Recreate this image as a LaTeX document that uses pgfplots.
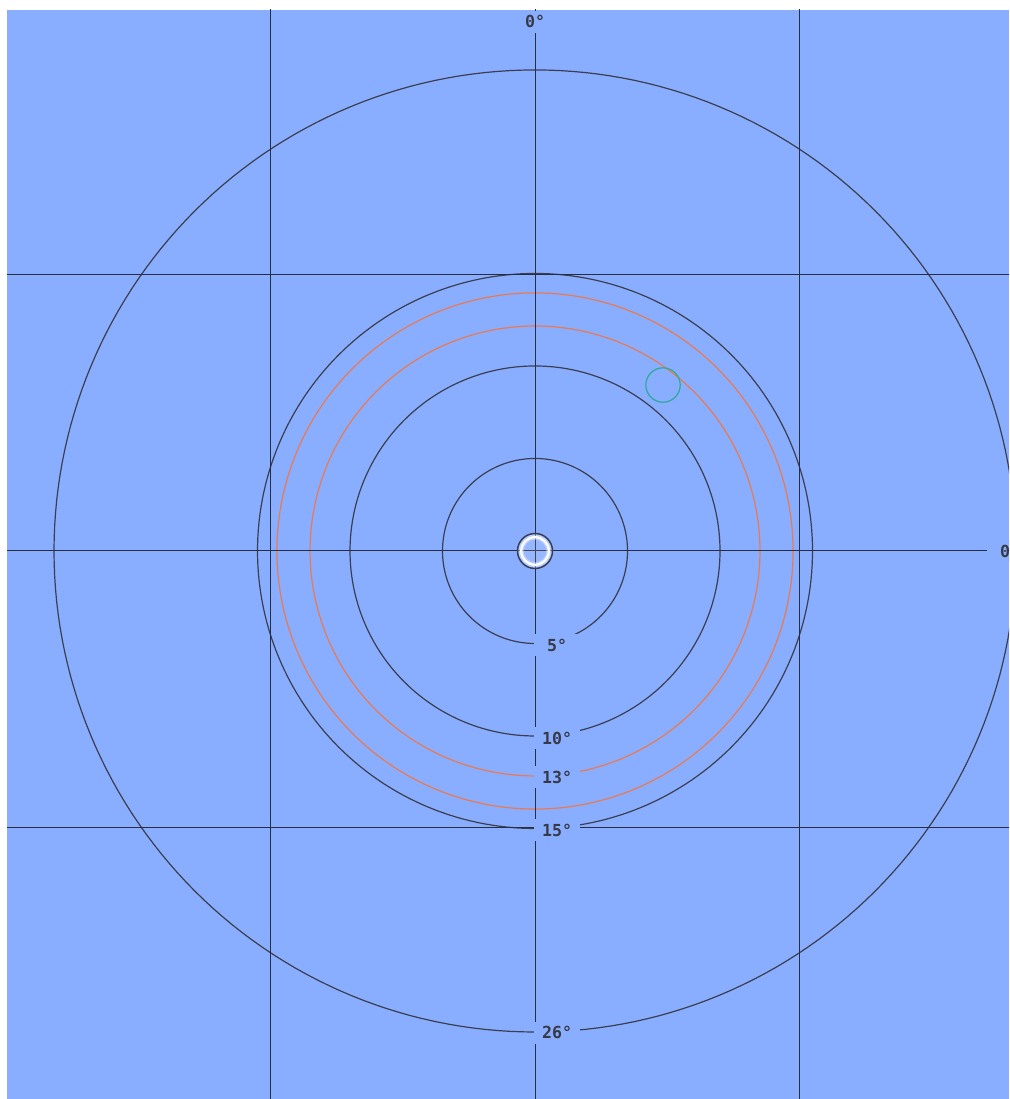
\documentclass[border=0pt]{standalone}
\usepackage{fontspec}
\setmonofont{DejaVu Sans Mono}
\usepackage{pgfplots}
\pgfplotsset{compat=1.18}

\definecolor{sky}{RGB}{137,174,255}
\definecolor{ringdark}{RGB}{58,62,78}
\definecolor{griddark}{RGB}{40,46,66}
\definecolor{ringorange}{RGB}{232,122,82}
\definecolor{targetteal}{RGB}{42,170,150}
\definecolor{lbltext}{RGB}{55,58,70}

\tikzset{
  lbl/.style={fill=sky, text=lbltext, inner sep=0pt, minimum width=23pt, minimum height=11pt,
    font=\ttfamily\bfseries\fontsize{8.3}{9}\selectfont},
}

\begin{document}
\begin{tikzpicture}
% page: blue field plus a thin white margin on the left and top
\path[use as bounding box, fill=white] (-3.5pt,0pt) rectangle (501pt,549.5pt);
\begin{axis}[
  at={(0pt,0pt)}, anchor=south west,
  scale only axis, width=501pt, height=544.5pt,
  xmin=-28.54, xmax=25.62, ymin=-29.62, ymax=29.24,
  axis line style={draw=none}, xtick=\empty, ytick=\empty,
  axis background/.style={fill=sky},
  clip=true,
  ring/.style={draw=ringdark, line width=0.6pt, no marks, domain=0:360, samples=241},
  orange ring/.style={draw=ringorange, line width=0.6pt, no marks, domain=0:360, samples=241},
  grid line/.style={draw=griddark, line width=0.45pt, no marks},
]
% distance rings (degrees)
\pgfplotsinvokeforeach{5,10,15,26}{
  \addplot[ring] ({#1*cos(x)},{#1*sin(x)});
}
% orange band
\pgfplotsinvokeforeach{12.16,13.95}{
  \addplot[orange ring] ({#1*cos(x)},{#1*sin(x)});
}
% coordinate grid
\addplot[grid line] coordinates {(-14.30,-40) (-14.30,40)};
\addplot[grid line] coordinates {(0.03,-40) (0.03,40)};
\addplot[grid line] coordinates {(14.32,-40) (14.32,40)};
\addplot[grid line] coordinates {(-40,14.92) (40,14.92)};
\addplot[grid line] coordinates {(-40,0.03) (40,0.03)};
\addplot[grid line] coordinates {(-40,-14.97) (40,-14.97)};
% target
\addplot[only marks, mark=o, mark size=8.6pt,
  mark options={draw=targetteal, line width=0.6pt}] coordinates {(6.92,8.97)};
% centre marker
\addplot[only marks, mark=*, mark size=8.75pt,
  mark options={draw=ringdark, line width=0.75pt, fill=white, fill opacity=0.12}] coordinates {(0,0)};
\addplot[only marks, mark=o, mark size=6.9pt,
  mark options={draw=white, line width=2.6pt, draw opacity=0.35}] coordinates {(0,0)};
\addplot[only marks, mark=o, mark size=6.9pt,
  mark options={draw=white, line width=1.1pt}] coordinates {(0,0)};
% ring labels
\node[lbl] at (axis cs:1.19,-5.08)  {5°};
\node[lbl] at (axis cs:1.19,-10.11) {10°};
\node[lbl] at (axis cs:1.19,-12.22) {13°};
\node[lbl] at (axis cs:1.19,-15.08) {15°};
\node[lbl] at (axis cs:1.19,-26.05) {26°};
\node[lbl] at (axis cs:0,28.6)      {0°};
\node[lbl] at (axis cs:25.68,0)     {0°};
\end{axis}
\end{tikzpicture}
\end{document}
